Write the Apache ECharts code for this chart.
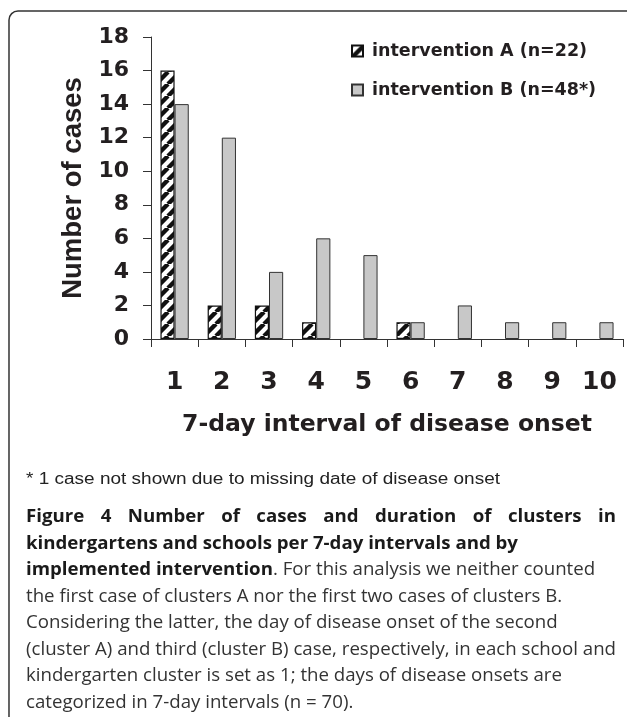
<!DOCTYPE html>
<html><head><meta charset="utf-8">
<script src="https://cdn.jsdelivr.net/npm/echarts@6/dist/echarts.min.js"></script>
<style>html,body{margin:0;padding:0;background:#fff}#c{width:627px;height:717px}</style>
</head><body><div id="c"></div>
<script>
// ---- data ----
const categories = ['1','2','3','4','5','6','7','8','9','10'];
const seriesNames = ['intervention A (n=22)', 'intervention B (n=48*)'];
const valuesA = [16, 2, 2, 1, 0, 1, 0, 0, 0, 0];
const valuesB = [14, 12, 4, 6, 5, 1, 2, 1, 1, 1];
const yMin = 0, yMax = 18, yInterval = 2;
const xAxisName = '7-day interval of disease onset';
const yAxisName = 'Number of cases';
const footnote = '* 1 case not shown due to missing date of disease onset';
const captionLine1Words = ['Figure','4','Number','of','cases','and','duration','of','clusters','in'];
const captionLine2 = 'kindergartens and schools per 7-day intervals and by';
const captionLine3Bold = 'implemented intervention';
const captionLine3Rest = '. For this analysis we neither counted';
const captionRest = [
  'the first case of clusters A nor the first two cases of clusters B.',
  'Considering the latter, the day of disease onset of the second',
  '(cluster A) and third (cluster B) case, respectively, in each school and',
  'kindergarten cluster is set as 1; the days of disease onsets are',
  'categorized in 7-day intervals (n = 70).'
];

// ---- styles ----
function hatchPattern(){
  const s = 12, c = document.createElement('canvas');
  c.width = s; c.height = s;
  const g = c.getContext('2d');
  g.fillStyle = '#fff'; g.fillRect(0,0,s,s);
  g.strokeStyle = '#111'; g.lineWidth = 4.4;
  g.beginPath();
  for (let k=-1;k<=1;k++){ g.moveTo(k*s, s); g.lineTo(k*s+s, 0); }
  g.stroke();
  return c;
}
const mctx = document.createElement('canvas').getContext('2d');
function tw(t, font){ mctx.font = font; return mctx.measureText(t).width; }

const axisFont = '"DejaVu Sans", sans-serif';
const capReg = '18.5px "Open Sans"';
const capBold = 'bold 18.5px "Open Sans"';
const capLeft = 26, capRight = 616;
const capScale = (capRight - capLeft) / tw(captionRest[2], capReg);
const lineY0 = 517, lineH = 26.5;

const graphics = [];
graphics.push({type:'rect', shape:{x:9, y:11, width:720, height:800, r:9}, style:{fill:'none', stroke:'#333', lineWidth:1.5}, silent:true});
const fnFont = '16px "Liberation Sans"';
graphics.push({type:'text', x:capLeft, y:480, scaleX: 474 / tw(footnote, fnFont), style:{text:footnote, font:fnFont, fill:'#222', verticalAlign:'middle'}});
(function(){
  const widths = captionLine1Words.map(w => tw(w, capBold) * capScale);
  const total = widths.reduce((a,b)=>a+b,0);
  const gap = (capRight - capLeft - total) / (captionLine1Words.length - 1);
  let x = capLeft;
  captionLine1Words.forEach((w,i)=>{
    graphics.push({type:'text', x:x, y:lineY0, scaleX:capScale, style:{text:w, font:capBold, fill:'#1a1a1a', verticalAlign:'middle'}});
    x += widths[i] + gap;
  });
})();
graphics.push({type:'text', x:capLeft, y:lineY0+lineH, scaleX:capScale, style:{text:captionLine2, font:capBold, fill:'#1a1a1a', verticalAlign:'middle'}});
graphics.push({type:'text', x:capLeft, y:lineY0+2*lineH, scaleX:capScale, style:{
  text:'{b|'+captionLine3Bold+'}{r|'+captionLine3Rest+'}', verticalAlign:'middle',
  rich:{ b:{fontFamily:'Open Sans', fontWeight:'bold', fontSize:18.5, fill:'#1a1a1a'},
         r:{fontFamily:'Open Sans', fontSize:18.5, fill:'#333'} }}});
captionRest.forEach((t,i)=>{
  graphics.push({type:'text', x:capLeft, y:lineY0+(3+i)*lineH, scaleX:capScale, style:{text:t, font:capReg, fill:'#333', verticalAlign:'middle'}});
});

const noZero = v => (v === 0 ? '-' : v);

const chart = echarts.init(document.getElementById('c'), null, {renderer:'canvas'});
chart.setOption({
  animation:false,
  backgroundColor:'#fff',
  grid:{left:151, right:4, top:37, bottom:378, containLabel:false, outerBoundsMode:'none'},
  legend:{
    orient:'vertical', left:346, top:37, itemWidth:11, itemHeight:11, itemGap:21, icon:'rect',
    textStyle:{fontFamily:axisFont, fontWeight:'bold', fontSize:17.5, color:'#231f20', padding:[0,0,0,4]},
    data: seriesNames
  },
  xAxis:{
    type:'category', data:categories,
    axisLine:{lineStyle:{color:'#333', width:1}},
    axisTick:{show:true, length:8, lineStyle:{color:'#333'}},
    axisLabel:{fontFamily:axisFont, fontWeight:'bold', fontSize:25, color:'#231f20', margin:31},
    name:xAxisName, nameLocation:'middle', nameGap:74,
    nameTextStyle:{fontFamily:axisFont, fontWeight:'bold', fontSize:23.5, color:'#231f20'}
  },
  yAxis:{
    type:'value', min:yMin, max:yMax, interval:yInterval,
    axisLine:{show:true, lineStyle:{color:'#333', width:1}},
    axisTick:{show:true, length:8, lineStyle:{color:'#333'}},
    splitLine:{show:false},
    axisLabel:{fontFamily:axisFont, fontWeight:'bold', fontSize:22, color:'#231f20', margin:22},
    name:yAxisName, nameLocation:'middle', nameRotate:90, nameGap:64,
    nameTextStyle:{fontFamily:'"Liberation Sans", Arial, sans-serif', fontWeight:'bold', fontSize:27.5, color:'#231f20'}
  },
  series:[
    {name:seriesNames[0], type:'bar', data:valuesA.map(noZero), barGap:'0%', barCategoryGap:'40%',
     itemStyle:{color:{image:hatchPattern(), repeat:'repeat'}, borderColor:'#111', borderWidth:1.2}},
    {name:seriesNames[1], type:'bar', data:valuesB.map(noZero), barGap:'0%', barCategoryGap:'40%',
     itemStyle:{color:'#c8c8c8', borderColor:'#333', borderWidth:1}}
  ],
  graphic: graphics
});
</script></body></html>
